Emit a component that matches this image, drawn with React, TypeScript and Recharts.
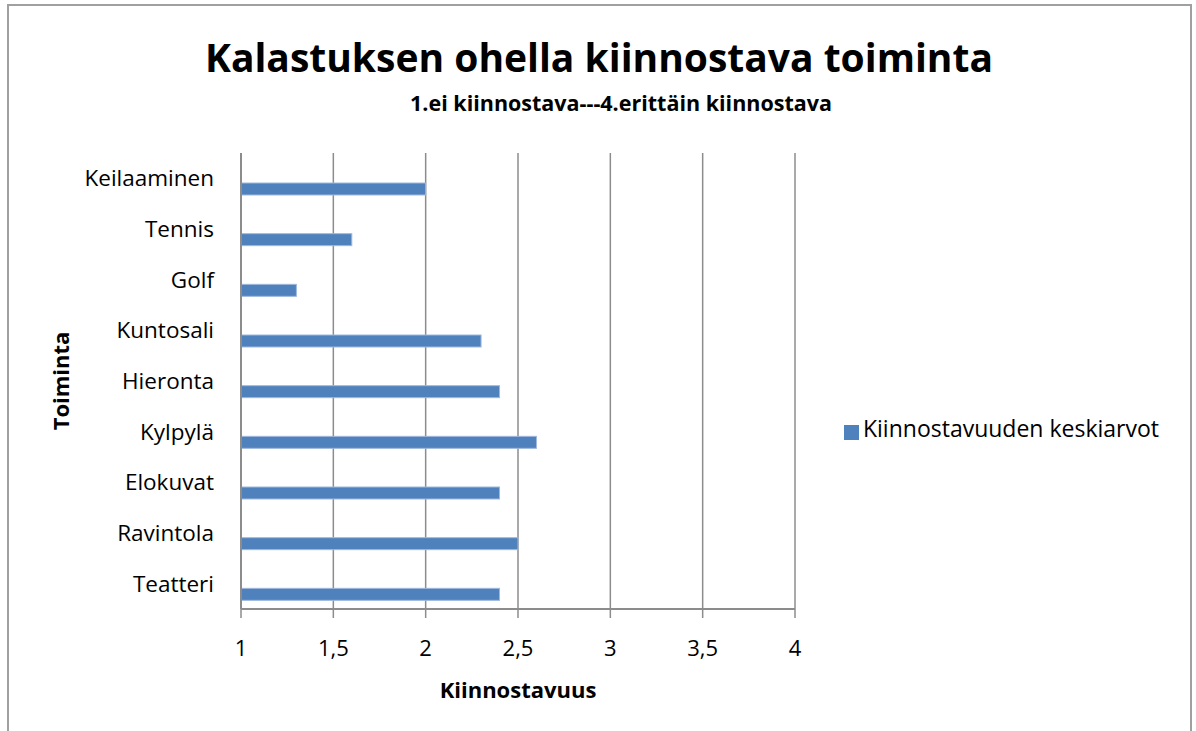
import { BarChart, Bar, XAxis, YAxis, CartesianGrid, Legend } from 'recharts'

const categories = [
  'Keilaaminen',
  'Tennis',
  'Golf',
  'Kuntosali',
  'Hieronta',
  'Kylpylä',
  'Elokuvat',
  'Ravintola',
  'Teatteri',
]
const averages = [2.0, 1.6, 1.3, 2.3, 2.4, 2.6, 2.4, 2.5, 2.4]
const xTicks = [1, 1.5, 2, 2.5, 3, 3.5, 4]

const data = categories.map((name, i) => ({ name, value: averages[i] }))

const GRID = '#8c8c8c'
const BLUE = '#4f81bd'
const FONT = '"Open Sans", "Noto Sans", sans-serif'
const LEGEND_W = 340

// Excel draws the single bar in the lower half of each band
function OffsetBar(props: any) {
  const { x, y, width, height } = props
  return <rect x={x} y={y + 11} width={width} height={height} fill={BLUE} stroke="#9fb9dc" strokeWidth={1} />
}

function YTitle(props: any) {
  const vb = props.viewBox || {}
  const cy = (vb.y ?? 153) + (vb.height ?? 456) / 2
  return (
    <text
      x={60}
      y={cy}
      transform={`rotate(-90, 60, ${cy})`}
      textAnchor="middle"
      dominantBaseline="central"
      fontSize={22}
      fontWeight={700}
      fill="#000"
    >
      Toiminta
    </text>
  )
}

export default function App() {
  return (
    <div
      style={{
        position: 'absolute',
        left: 0,
        top: 0,
        width: 1196,
        height: 731,
        background: '#fff',
        fontFamily: FONT,
        overflow: 'hidden',
      }}
    >
      <BarChart
        width={1196}
        height={731}
        data={data}
        layout="vertical"
        margin={{ top: 153, right: 401 - LEGEND_W, bottom: 0, left: 0 }}
      >
        <CartesianGrid horizontal={false} stroke={GRID} strokeWidth={1.5} />
        <XAxis
          type="number"
          domain={[1, 4]}
          ticks={xTicks}
          tickFormatter={(v) => String(v).replace('.', ',')}
          height={122}
          axisLine={{ stroke: GRID, strokeWidth: 2 }}
          tickLine={{ stroke: GRID, strokeWidth: 1.5 }}
          tickSize={9}
          tickMargin={22}
          tick={{ fontSize: 22, fill: '#000' }}
          label={{
            value: 'Kiinnostavuus',
            position: 'insideBottom',
            offset: 33,
            fontSize: 22,
            fontWeight: 700,
            fill: '#000',
          }}
        />
        <YAxis
          type="category"
          dataKey="name"
          width={241}
          interval={0}
          axisLine={{ stroke: GRID, strokeWidth: 2 }}
          tickLine={false}
          tickSize={0}
          tickMargin={27}
          tick={{ fontSize: 22.5, fill: '#000' }}
          label={{ content: YTitle }}
        />
        <Bar
          dataKey="value"
          name="Kiinnostavuuden keskiarvot"
          barSize={12}
          fill={BLUE}
          shape={OffsetBar}
          isAnimationActive={false}
        />
        <Legend
          layout="horizontal"
          verticalAlign="middle"
          align="right"
          iconType="square"
          iconSize={15}
          formatter={(value) => <span style={{ color: '#000', fontSize: 23 }}>{value}</span>}
          wrapperStyle={{ left: 829, top: 413, width: LEGEND_W, lineHeight: '30px', whiteSpace: 'nowrap' }}
        />
      </BarChart>
      <div
        style={{
          position: 'absolute',
          left: 7,
          top: 4,
          width: 1181,
          height: 740,
          borderTop: '2px solid #a0a0a0',
          borderLeft: '2px solid #a0a0a0',
          borderRight: '2px solid #a0a0a0',
          pointerEvents: 'none',
        }}
      />
      <div
        style={{
          position: 'absolute',
          left: 0,
          width: 1198,
          top: 29,
          textAlign: 'center',
          fontSize: 39,
          fontWeight: 700,
          lineHeight: '56px',
          color: '#000',
        }}
      >
        Kalastuksen ohella kiinnostava toiminta
      </div>
      <div
        style={{
          position: 'absolute',
          left: 0,
          width: 1242,
          top: 88,
          textAlign: 'center',
          fontSize: 21.5,
          fontWeight: 700,
          lineHeight: '30px',
          color: '#000',
        }}
      >
        1.ei kiinnostava---4.erittäin kiinnostava
      </div>
    </div>
  )
}
